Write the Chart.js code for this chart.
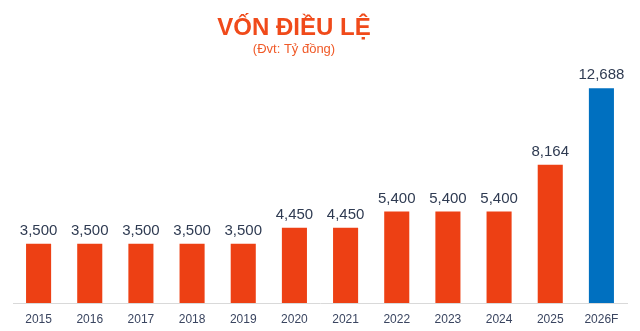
<!DOCTYPE html>
<html lang="vi">
<head>
  <meta charset="UTF-8">
  <title>Vốn điều lệ</title>
  <script src="https://cdn.jsdelivr.net/npm/chart.js"></script>
  <style>
    body { margin: 0; background: #fff; }
    #wrap { position: relative; width: 640px; height: 331px; }
  </style>
</head>
<body>
  <div id="wrap">
    <canvas id="von-chart" width="640" height="331"></canvas>
  </div>

  <script>
    const years = ["2015", "2016", "2017", "2018", "2019", "2020", "2021", "2022", "2023", "2024", "2025", "2026F"];
    const capital = [3500, 3500, 3500, 3500, 3500, 4450, 4450, 5400, 5400, 5400, 8164, 12688];
    const isForecast = [false, false, false, false, false, false, false, false, false, false, false, true];

    const titleText = "VỐN ĐIỀU LỆ";
    const subtitleText = "(Đvt: Tỷ đồng)";

    const ORANGE = "#ED4014";
    const BLUE = "#0070C0";
    const FONT = "'Liberation Sans', Arial, sans-serif";

    // heading drawn straight onto the canvas, slightly left of centre
    const headingPlugin = {
      id: "heading",
      afterDraw(chart) {
        const ctx = chart.ctx;
        ctx.save();
        ctx.textAlign = "center";
        ctx.textBaseline = "alphabetic";
        ctx.fillStyle = "#F04A1A";
        ctx.font = "bold 24px " + FONT;
        ctx.fillText(titleText, 294, 35);
        ctx.font = "13px " + FONT;
        ctx.fillStyle = "#F05A28";
        ctx.fillText(subtitleText, 294, 53);
        ctx.restore();
      }
    };

    // value above each bar
    const valueLabels = {
      id: "valueLabels",
      afterDatasetsDraw(chart) {
        const ctx = chart.ctx;
        const meta = chart.getDatasetMeta(0);
        ctx.save();
        ctx.textAlign = "center";
        ctx.textBaseline = "alphabetic";
        ctx.fillStyle = "#2F3B52";
        ctx.font = "15px " + FONT;
        meta.data.forEach((bar, i) => {
          ctx.fillText(capital[i].toLocaleString("en-US"), bar.x, bar.y - 9);
        });
        ctx.restore();
      }
    };

    const ctx = document.getElementById("von-chart").getContext("2d");
    new Chart(ctx, {
      type: "bar",
      data: {
        labels: years,
        datasets: [{
          data: capital,
          backgroundColor: isForecast.map(f => f ? BLUE : ORANGE),
          borderWidth: 0,
          categoryPercentage: 1,
          barPercentage: 0.49
        }]
      },
      options: {
        responsive: false,
        animation: false,
        layout: { padding: { left: 13, right: 13, top: 66, bottom: 0 } },
        plugins: {
          legend: { display: false },
          tooltip: { enabled: false }
        },
        scales: {
          x: {
            afterFit(axis) { axis.height = 28; },
            grid: { display: false, drawTicks: false },
            border: { display: true, color: "#D9D9D9", width: 1 },
            ticks: {
              padding: 9,
              color: "#3A4560",
              font: { family: FONT, size: 12 }
            }
          },
          y: {
            display: false,
            min: 0,
            max: 14000
          }
        }
      },
      plugins: [headingPlugin, valueLabels]
    });
  </script>
</body>
</html>
